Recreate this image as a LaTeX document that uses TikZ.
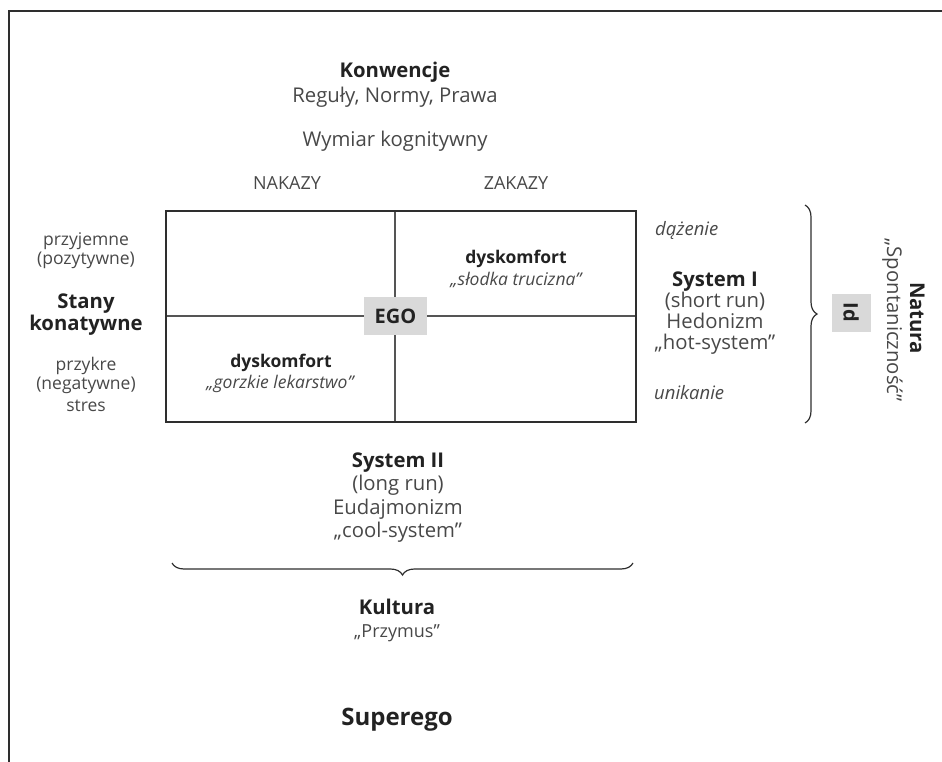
\documentclass[tikz,border=0pt]{standalone}
\usepackage{fontspec}
\setmainfont{Open Sans}
\usetikzlibrary{decorations.pathreplacing}
\definecolor{txtreg}{HTML}{484848}
\definecolor{txtbold}{HTML}{222222}
\definecolor{boxline}{HTML}{2E2E2E}
\definecolor{innerline}{HTML}{555555}
\definecolor{egofill}{HTML}{D9D9D9}
\tikzset{
  reg/.style={font=\fontsize{20.3}{24}\selectfont, text=txtreg, anchor=base, inner sep=0pt},
  regs/.style={font=\fontsize{17.5}{21}\selectfont, text=txtreg, anchor=base, inner sep=0pt},
  small/.style={font=\fontsize{18}{21}\selectfont, text=txtreg, anchor=base, inner sep=0pt},
  bld/.style={font=\fontsize{20.3}{24}\selectfont\bfseries, text=txtbold, anchor=base, inner sep=0pt},
  bldq/.style={font=\fontsize{17.5}{21}\selectfont\bfseries, text=txtbold, anchor=base, inner sep=0pt},
  itl/.style={font=\fontsize{17.5}{21}\selectfont\itshape, text=txtreg, anchor=base, inner sep=0pt},
  itr/.style={font=\fontsize{18.5}{21}\selectfont\itshape, text=txtreg, anchor=base west, inner sep=0pt},
  tag/.style={fill=egofill, font=\fontsize{20}{22}\selectfont\bfseries, text=txtbold, inner sep=0pt},
  bracestyle/.style={decorate, decoration={brace, amplitude=12pt}, line width=1.2pt, draw=boxline},
}
\begin{document}
\begin{tikzpicture}[x=1pt,y=-1pt]
\useasboundingbox (0,0) rectangle (942,762);
% frame
\coordinate (fbl) at (9,762);
\coordinate (ftl) at (9,11);
\coordinate (ftr) at (942,11);
\draw[line width=1.3pt, draw=boxline] (fbl) -- (ftl) -- (ftr);
% top texts
\node[bld] (konw) at (395,78) {Konwencje};
\node[reg] (regu) at (395,103) {Reguły, Normy, Prawa};
\node[reg] (wymi) at (395,147) {Wymiar kognitywny};
\node[small] (naka) at (287,190) {NAKAZY};
\node[small] (zaka) at (516,190) {ZAKAZY};
% grid
\coordinate (gtl) at (166,211);
\coordinate (gbr) at (636,422);
\coordinate (vt) at (395,211);
\coordinate (vb) at (395,422);
\coordinate (hl) at (166,316);
\coordinate (hr) at (636,316);
\draw[line width=1.2pt, draw=innerline] (vt) -- (vb);
\draw[line width=1.2pt, draw=innerline] (hl) -- (hr);
\draw[line width=1.8pt, draw=boxline] (gtl) rectangle (gbr);
\node[tag, minimum width=63, minimum height=38] (ego) at (395.5,316) {EGO};
% quadrant texts
\node[bldq] (dys1) at (516,263) {dyskomfort};
\node[itl] (slod) at (516,285) {„słodka trucizna”};
\node[bldq] (dys2) at (281,367) {dyskomfort};
\node[itl] (gorz) at (280,388) {„gorzkie lekarstwo”};
% left texts
\node[regs] (przy) at (86,245) {przyjemne};
\node[regs] (pozy) at (86,264) {(pozytywne)};
\node[bld] (stan) at (86,308) {Stany};
\node[bld] (kona) at (86,330) {konatywne};
\node[regs] (przk) at (86,370) {przykre};
\node[regs] (nega) at (86,389) {(negatywne)};
\node[regs] (stre) at (86,411) {stres};
% right texts
\node[itr] (daze) at (655,235) {dążenie};
\node[bld] (sys1) at (715,286) {System I};
\node[reg] (shor) at (715,307) {(short run)};
\node[reg] (hedo) at (715,328) {Hedonizm};
\node[reg] (hots) at (715,349) {„hot-system”};
\node[itr] (unik) at (654,399) {unikanie};
% right brace, Id, Natura
\coordinate (rbt) at (805,205);
\coordinate (rbb) at (805,423);
\draw[bracestyle] (rbt) -- (rbb);
\node[tag, minimum width=38, minimum height=39, rotate=-90] (id) at (851,312.5) {Id};
\node[bld, rotate=-90] (natu) at (910,318) {Natura};
\node[reg, rotate=-90] (spon) at (887,320) {„Spontaniczność”};
% bottom texts
\node[bld] (sys2) at (398,467) {System II};
\node[reg] (long) at (398,490) {(long run)};
\node[reg] (euda) at (398,514) {Eudajmonizm};
\node[reg] (cool) at (398,537) {„cool-system”};
\coordinate (bbr) at (633,563);
\coordinate (bbl) at (172,563);
\draw[bracestyle] (bbr) -- (bbl);
\node[bld] (kult) at (397,614) {Kultura};
\node[small] (przm) at (397,637) {„Przymus”};
\node[bld, font=\fontsize{24}{28}\selectfont\bfseries] (supe) at (397,725) {Superego};
\end{tikzpicture}
\end{document}
